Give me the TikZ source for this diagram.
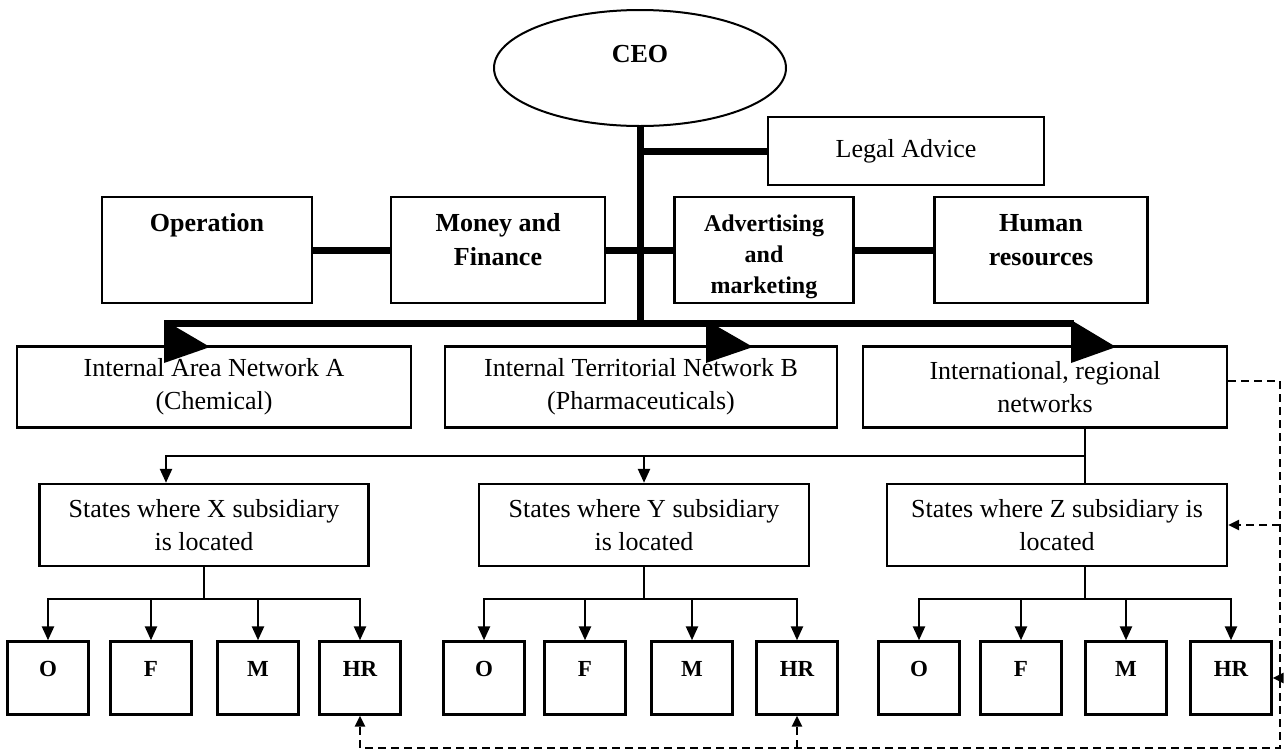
\documentclass[tikz,border=0pt]{standalone}
\usepackage{fontspec}
\setmainfont{Liberation Serif}
\usetikzlibrary{shapes}
\usetikzlibrary{positioning}
\usetikzlibrary{arrows.meta}
\tikzset{
    mynode/.style = {rectangle, line width=2.4pt, draw=black, align=center, inner sep=0pt, font=\fontsize{26}{33}\selectfont, text=black},
    mynodeb/.style = {mynode, font=\fontsize{26}{34}\selectfont\bfseries},
    mynodee/.style = {ellipse, line width=2pt, draw=black, inner sep=0pt, font=\fontsize{26}{33}\selectfont\bfseries, text=black},
    mynodes/.style = {mynode, minimum width=81pt, minimum height=73pt, font=\fontsize{23}{28}\selectfont\bfseries, text height=18pt, text depth=21pt},
    topline/.style 2 args = {text height=#1, text depth=#2}, % text at the top
    edgen/.style = {-, line width=7pt, black},
    edgel/.style = {-, line width=2.4pt, black},
    edgea/.style = {-{Triangle[length=14pt,width=12pt]}, line width=2.4pt, black},
    edgedd/.style = {-{Triangle[length=11pt,width=10pt]}, line width=2.6pt, black, dash pattern=on 8pt off 5pt}, % feedback
}
\begin{document}
\begin{tikzpicture}[x=1pt, y=-1pt]
  \useasboundingbox (0,0) rectangle (1288,753);
  \node[mynodee, minimum width=292pt, minimum height=116pt, text height=18pt, text depth=30pt] (ceo) at (640,68) {CEO};
  \node[mynode, minimum width=276pt, minimum height=68pt] (legal) at (906,151) {Legal Advice};
  \node[mynodeb, topline={18pt}{56pt}, minimum width=210pt, minimum height=106pt] (op) at (207,250) {Operation};
  \node[mynodeb, topline={52pt}{22pt}, minimum width=214pt, minimum height=106pt] (money) at (498,250) {Money and\\Finance};
  \node[mynodeb, topline={86pt}{0pt}, minimum width=179pt, minimum height=106pt, font=\fontsize{24}{31}\selectfont\bfseries] (adv) at (764,250) {Advertising\\and\\marketing};
  \node[mynodeb, topline={52pt}{22pt}, minimum width=213pt, minimum height=106pt] (hrd) at (1041,250) {Human\\resources};
  \node[mynode, minimum width=394pt, minimum height=81pt] (neta) at (214,387) {Internal Area Network A\\(Chemical)};
  \node[mynode, minimum width=392pt, minimum height=81pt] (netb) at (641,387) {Internal Territorial Network B\\(Pharmaceuticals)};
  \node[mynode, minimum width=364pt, minimum height=81pt] (netc) at (1045,387) {International, regional\\networks};
  \node[mynode, minimum width=329pt, minimum height=82pt] (statex) at (204,525) {States where X subsidiary\\is located};
  \node[mynode, minimum width=330pt, minimum height=82pt] (statey) at (644,525) {States where Y subsidiary\\is located};
  \node[mynode, minimum width=340pt, minimum height=82pt] (statez) at (1057,525) {States where Z subsidiary is\\located};
  \node[mynodes] (ox) at (48,678) {O};
  \node[mynodes] (fx) at (151,678) {F};
  \node[mynodes] (mx) at (258,678) {M};
  \node[mynodes] (hrx) at (360,678) {HR};
  \node[mynodes] (oy) at (484,678) {O};
  \node[mynodes] (fy) at (585,678) {F};
  \node[mynodes] (my) at (692,678) {M};
  \node[mynodes] (hry) at (797,678) {HR};
  \node[mynodes] (oz) at (919,678) {O};
  \node[mynodes] (fz) at (1021,678) {F};
  \node[mynodes] (mz) at (1126,678) {M};
  \node[mynodes] (hrz) at (1231,678) {HR};

  \coordinate (hub) at (640,323);
  \coordinate (busa) at (164,323);
  \coordinate (busb) at (1074,323);
  \draw[edgen] (ceo.south) -- (hub);
  \draw[edgen] (ceo |- legal) -- (legal);
  \draw[edgen] (op) -- (money);
  \draw[edgen] (money) -- (adv);
  \draw[edgen] (adv) -- (hrd);
  \draw[edgen] (busa) -- (busb);
  \fill (164,320) -- (164,363) -- (210,347) -- cycle;
  \fill (706,320) -- (706,363) -- (753,347) -- cycle;
  \fill (1071,320) -- (1071,363) -- (1116,347) -- cycle;

  \coordinate (split) at (1085,456);
  \draw[edgel] (netc.south -| split) -- (statez.north -| split);
  \draw[edgea] (split) -| ([xshift=-38pt]statex.north);
  \draw[edgea] (split) -| (statey.north);

  \draw[edgea] (statex.south) -- ++(0,32) -| (ox.north);
  \draw[edgea] (statex.south) -- ++(0,32) -| (fx.north);
  \draw[edgea] (statex.south) -- ++(0,32) -| (mx.north);
  \draw[edgea] (statex.south) -- ++(0,32) -| (hrx.north);
  \draw[edgea] (statey.south) -- ++(0,32) -| (oy.north);
  \draw[edgea] (statey.south) -- ++(0,32) -| (fy.north);
  \draw[edgea] (statey.south) -- ++(0,32) -| (my.north);
  \draw[edgea] (statey.south) -- ++(0,32) -| (hry.north);
  \draw[edgea] (statez.south -| split) -- ++(0,32) -| (oz.north);
  \draw[edgea] (statez.south -| split) -- ++(0,32) -| (fz.north);
  \draw[edgea] (statez.south -| split) -- ++(0,32) -| (mz.north);
  \draw[edgea] (statez.south -| split) -- ++(0,32) -| (hrz.north);

  \coordinate (fbc) at (1280,748);
  \draw[edgedd] ([yshift=6pt]netc.east) -| (fbc) -| (hrx.south);
  \draw[edgedd] (fbc -| hry) -- (hry.south);
  \draw[edgedd] (fbc |- statez) -- (statez.east);
  \draw[edgedd] (fbc |- hrz) -- (hrz.east);
\end{tikzpicture}
\end{document}
